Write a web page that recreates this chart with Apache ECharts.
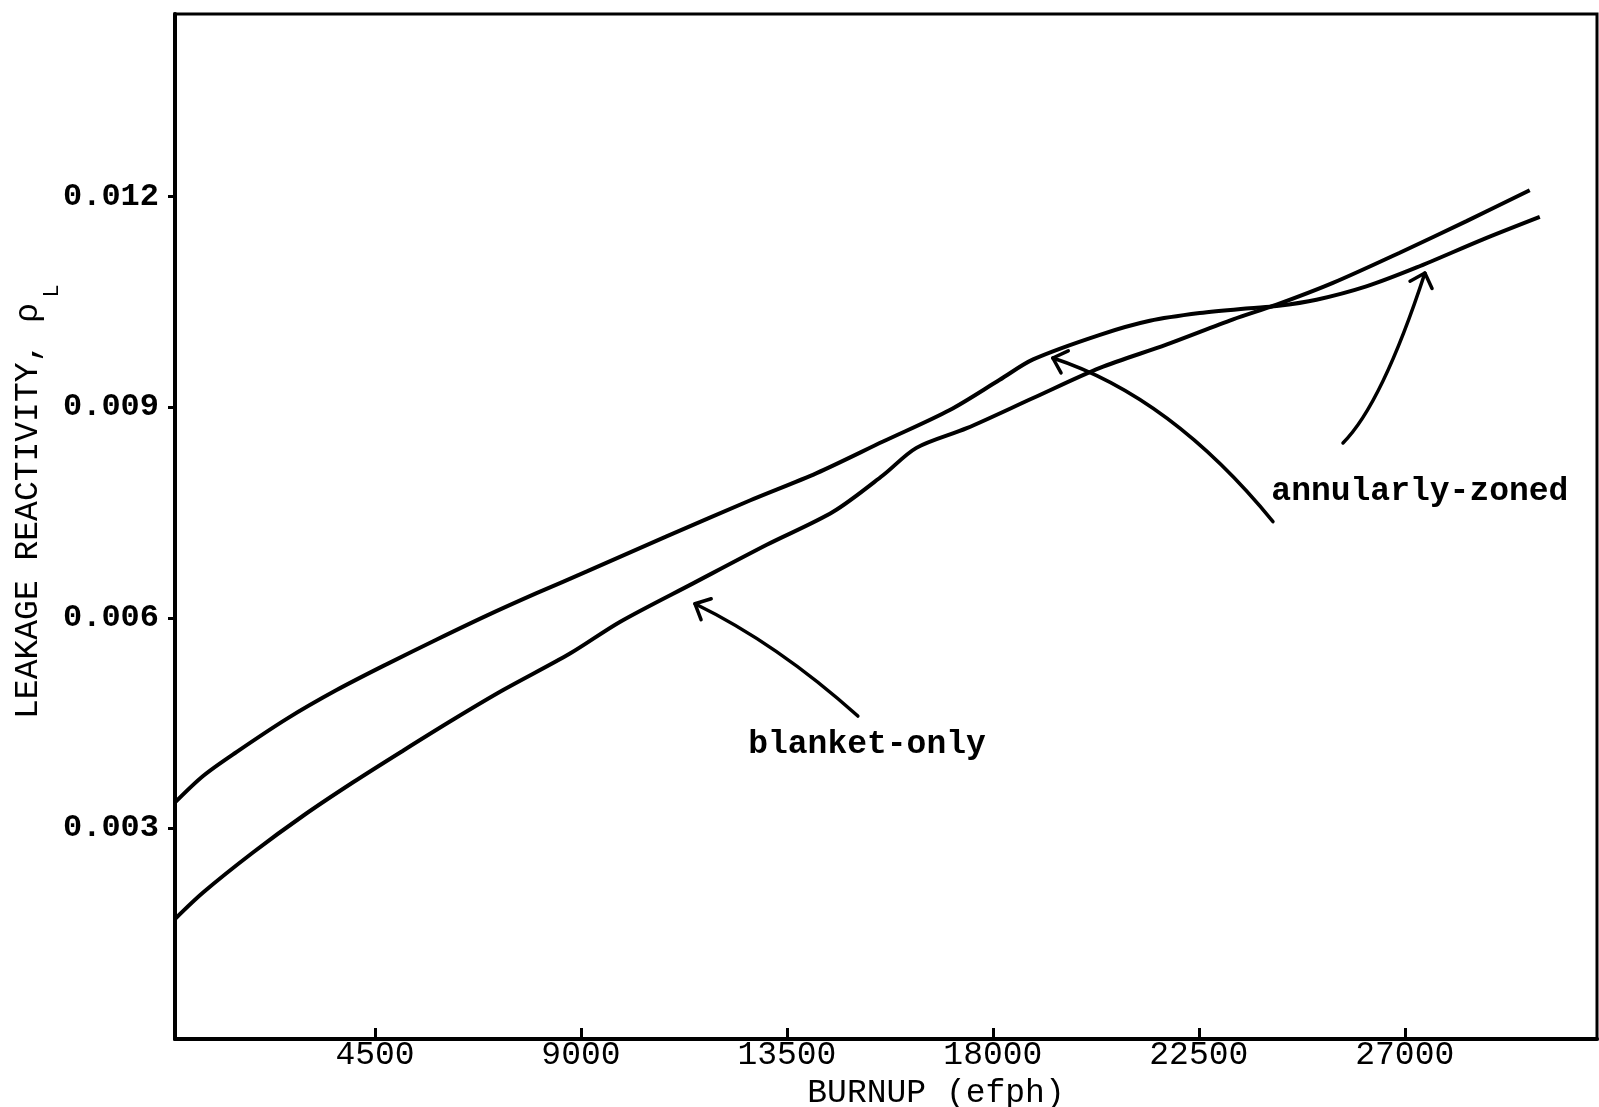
<!DOCTYPE html>
<html>
<head>
<meta charset="utf-8">
<script src="https://cdn.jsdelivr.net/npm/echarts@6/dist/echarts.min.js"></script>
<style>
  html, body { margin: 0; padding: 0; background: #ffffff; }
  #chart { width: 1599px; height: 1107px; }
</style>
</head>
<body>
<div id="chart"></div>
<script>
// Axis ticks
const burnupTicks = [4500, 9000, 13500, 18000, 22500, 27000];
const rhoTicks = [0.003, 0.006, 0.009, 0.012];

// Annularly-zoned core: burnup (efph) and leakage reactivity
const zonedBurnup = [130, 750, 1480, 2570, 3660, 4760, 5850, 6940, 8030, 9130, 10870, 12690, 14150,
  15600, 17060, 18150, 18880, 20340, 21430, 22520, 23610, 24200, 25070, 26160, 27260, 28710, 29950];
const zonedRho = [0.00337, 0.00375, 0.00409, 0.00456, 0.00497, 0.00534, 0.00569, 0.00603, 0.00635,
  0.00666, 0.00716, 0.00767, 0.00806, 0.00851, 0.00896, 0.00939, 0.00968, 0.01003, 0.01023, 0.01034,
  0.01041, 0.01044, 0.01053, 0.01072, 0.01099, 0.01139, 0.01171];

// Blanket-only core
const blanketBurnup = [130, 750, 1840, 2930, 4030, 5120, 6210, 7300, 8760, 9850, 11450, 13060, 14510,
  15600, 16330, 17430, 18880, 20340, 21790, 23250, 24200, 25430, 26890, 28350, 29730];
const blanketRho = [0.00171, 0.00209, 0.00266, 0.00318, 0.00366, 0.00411, 0.00455, 0.00497, 0.00549,
  0.00594, 0.00649, 0.00704, 0.00751, 0.00803, 0.00842, 0.00870, 0.00913, 0.00956, 0.00989, 0.01025,
  0.01046, 0.01077, 0.01120, 0.01165, 0.01209];

// Callout labels and their arrows (start, control, tip), in data units
const blanketNote = 'blanket-only';
const blanketNoteAt = [15250, 0.00419];
const blanketArrow = [[15050, 0.00460], [13290, 0.00563], [11490, 0.00620]];
const zonedNote = 'annularly-zoned';
const zonedNoteAt = [27330, 0.00779];
const zonedArrowA = [[24120, 0.00737], [21890, 0.00915], [19310, 0.00970]];
const zonedArrowB = [[25650, 0.00849], [26500, 0.00904], [27440, 0.01091]];

const FONT = '"Liberation Mono", "DejaVu Sans Mono", monospace';
const INK = '#000000';

const zip = (xs, ys) => xs.map((x, i) => [x, ys[i]]);

const chart = echarts.init(document.getElementById('chart'), null, { renderer: 'canvas' });

chart.setOption({
  animation: false,
  backgroundColor: '#ffffff',
  grid: {
    left: 175, right: 2, top: 14, bottom: 68,
    show: true, borderColor: INK, borderWidth: 3,
    outerBoundsMode: 'none'
  },
  xAxis: {
    type: 'value',
    min: 130, max: 31200,
    name: 'BURNUP (efph)',
    nameLocation: 'middle',
    nameGap: 29,
    nameTextStyle: { fontFamily: FONT, fontSize: 33, color: INK, lineHeight: 33, padding: [0, 0, 0, 100] },
    axisLine: { show: true, lineStyle: { color: INK, width: 4 } },
    axisTick: { show: true, inside: true, length: 11, lineStyle: { color: INK, width: 3 }, customValues: burnupTicks },
    axisLabel: {
      fontFamily: FONT, fontSize: 33, color: INK, margin: 0, lineHeight: 33,
      customValues: burnupTicks,
      formatter: v => String(v)
    },
    splitLine: { show: false }
  },
  yAxis: {
    type: 'value',
    min: 0, max: 0.0146,
    axisLine: { show: true, lineStyle: { color: INK, width: 4 } },
    axisTick: { show: true, inside: false, length: 7, lineStyle: { color: INK, width: 3 }, customValues: rhoTicks },
    axisLabel: {
      fontFamily: FONT, fontSize: 32, fontWeight: 'bold', color: INK, margin: 16,
      customValues: rhoTicks,
      formatter: v => v.toFixed(3)
    },
    splitLine: { show: false }
  },
  series: [
    {
      name: 'annularly-zoned',
      type: 'line',
      data: zip(zonedBurnup, zonedRho),
      showSymbol: false,
      smooth: 0.3,
      lineStyle: { color: INK, width: 4 }
    },
    {
      name: 'blanket-only',
      type: 'line',
      data: zip(blanketBurnup, blanketRho),
      showSymbol: false,
      smooth: 0.3,
      lineStyle: { color: INK, width: 4 }
    }
  ]
});

// Callouts: curved leader with an open arrowhead at the tip
function toPx(p) { return chart.convertToPixel({ gridIndex: 0 }, p); }

function arrow(pts) {
  const [p0, c, p2] = pts.map(toPx);
  const dx = p2[0] - c[0], dy = p2[1] - c[1];
  const len = Math.hypot(dx, dy);
  const bx = -dx / len, by = -dy / len;
  const head = 17, spread = 0.75;
  const rot = a => [bx * Math.cos(a) - by * Math.sin(a), bx * Math.sin(a) + by * Math.cos(a)];
  const h1 = rot(spread), h2 = rot(-spread);
  return [
    {
      type: 'bezierCurve',
      shape: { x1: p0[0], y1: p0[1], cpx1: c[0], cpy1: c[1], x2: p2[0], y2: p2[1] },
      style: { stroke: INK, lineWidth: 3.5, fill: 'none', lineCap: 'round' }
    },
    {
      type: 'polyline',
      shape: { points: [[p2[0] + h1[0] * head, p2[1] + h1[1] * head], p2, [p2[0] + h2[0] * head, p2[1] + h2[1] * head]] },
      style: { stroke: INK, lineWidth: 3.5, fill: 'none', lineCap: 'round', lineJoin: 'round' }
    }
  ];
}

function note(text, at) {
  const p = toPx(at);
  return {
    type: 'text', x: p[0], y: p[1],
    style: { text, fill: INK, fontFamily: FONT, fontSize: 33, fontWeight: 'bold', align: 'center', verticalAlign: 'middle' }
  };
}

chart.setOption({
  graphic: [
    ...arrow(blanketArrow),
    ...arrow(zonedArrowA),
    ...arrow(zonedArrowB),
    note(blanketNote, blanketNoteAt),
    note(zonedNote, zonedNoteAt),
    // vertical axis title: LEAKAGE REACTIVITY, rho with subscript L
    {
      type: 'text', x: 28, y: 511, rotation: Math.PI / 2,
      style: { text: 'LEAKAGE REACTIVITY, ρ', fill: INK, fontFamily: FONT, fontSize: 33, align: 'center', verticalAlign: 'middle' }
    },
    {
      type: 'text', x: 52, y: 291, rotation: Math.PI / 2,
      style: { text: 'L', fill: INK, fontFamily: FONT, fontSize: 22, align: 'center', verticalAlign: 'middle' }
    }
  ]
});
</script>
</body>
</html>
